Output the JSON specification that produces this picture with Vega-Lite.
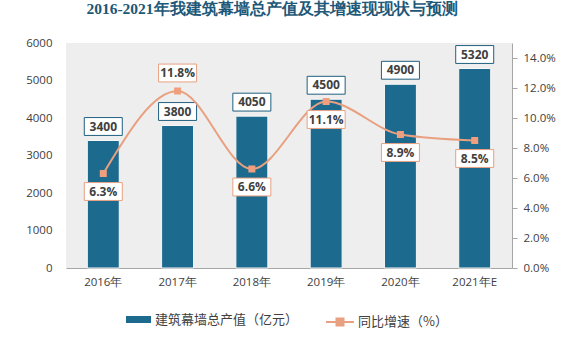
{
  "$schema": "https://vega.github.io/schema/vega-lite/v6.json",
  "width": 446,
  "height": 225,
  "autosize": "none",
  "padding": {"left": 66, "top": 43, "right": 52, "bottom": 77},
  "background": "#ffffff",
  "config": {
    "view": {"fill": "#eeeeee", "stroke": null},
    "font": "Open Sans",
    "axis": {"labelFont": "Open Sans", "labelFontSize": 11.5, "labelColor": "#404040", "grid": false, "title": null}
  },
  "title": {
    "text": "2016-2021年我建筑幕墙总产值及其增速现现状与预测",
    "font": "Liberation Serif",
    "fontSize": 15.5,
    "fontWeight": "bold",
    "color": "#1D5878",
    "anchor": "middle",
    "offset": 20,
    "dx": -17
  },
  "data": {
    "values": [
      {"year": "2016年", "value": 3400, "growth": 0.063},
      {"year": "2017年", "value": 3800, "growth": 0.118},
      {"year": "2018年", "value": 4050, "growth": 0.066},
      {"year": "2019年", "value": 4500, "growth": 0.111},
      {"year": "2020年", "value": 4900, "growth": 0.089},
      {"year": "2021年E", "value": 5320, "growth": 0.085}
    ]
  },
  "encoding": {
    "x": {
      "field": "year",
      "type": "nominal",
      "sort": null,
      "scale": {"paddingInner": 0.57, "paddingOuter": 0.287},
      "axis": {"labelAngle": 0, "ticks": false, "labelPadding": 8, "domainColor": "#a6a6a6", "domainWidth": 1}
    }
  },
  "layer": [
    {
      "encoding": {
        "y": {
          "field": "value",
          "type": "quantitative",
          "scale": {"domain": [0, 6000]},
          "axis": {"values": [0, 1000, 2000, 3000, 4000, 5000, 6000], "format": "d", "domain": false, "ticks": false, "labelPadding": 14, "orient": "left"}
        }
      },
      "layer": [
        {
          "mark": {"type": "bar", "stroke": "#f7f7f7", "strokeWidth": 1},
          "encoding": {
            "color": {
              "datum": "建筑幕墙总产值（亿元）",
              "scale": {"range": ["#1C6A8E"]},
              "legend": {
                "orient": "none",
                "legendX": 60,
                "legendY": 264,
                "title": null,
                "symbolType": "M-1,-0.28H1V0.28H-1Z",
                "symbolSize": 625,
                "symbolStrokeWidth": 0,
                "labelFont": "Noto Sans CJK SC",
                "labelFontSize": 13,
                "labelColor": "#404040",
                "labelOffset": 4
              }
            }
          }
        },
        {
          "mark": {"type": "point", "shape": "M-1,-0.47H1V0.47H-1Z", "size": 1444, "filled": false, "fill": "#ffffff", "fillOpacity": 1, "stroke": "#1F5F7F", "strokeWidth": 1, "opacity": 1, "yOffset": -14}
        },
        {
          "mark": {"type": "text", "fontSize": 12, "fontWeight": "bold", "color": "#404040", "baseline": "middle", "yOffset": -14},
          "encoding": {"text": {"field": "value", "type": "quantitative", "format": "d"}}
        }
      ]
    },
    {
      "encoding": {
        "y": {
          "field": "growth",
          "type": "quantitative",
          "scale": {"domain": [0, 0.15]},
          "axis": {"orient": "right", "values": [0, 0.02, 0.04, 0.06, 0.08, 0.1, 0.12, 0.14], "format": ".1%", "domainColor": "#a6a6a6", "tickColor": "#a6a6a6", "tickSize": 5, "labelPadding": 6}
        }
      },
      "layer": [
        {
          "mark": {"type": "line", "interpolate": "monotone", "strokeWidth": 2},
          "encoding": {
            "color": {
              "datum": "同比增速（%）",
              "scale": {"range": ["#E9A080"]},
              "legend": {
                "orient": "none",
                "legendX": 259,
                "legendY": 264,
                "title": null,
                "symbolType": "M-1,0H1M-0.25,-0.25H0.25V0.25H-0.25Z",
                "symbolSize": 784,
                "symbolStrokeWidth": 2,
                "symbolFillColor": "#E9A080",
                "labelFont": "Noto Sans CJK SC",
                "labelFontSize": 13,
                "labelColor": "#404040",
                "labelOffset": 3
              }
            }
          }
        },
        {
          "mark": {"type": "point", "shape": "square", "filled": true, "size": 49, "color": "#EF9F7E", "opacity": 1}
        },
        {
          "mark": {"type": "point", "shape": "M-1,-0.47H1V0.47H-1Z", "size": 1444, "filled": false, "fill": "#ffffff", "fillOpacity": 1, "stroke": "#E9A080", "strokeWidth": 1, "opacity": 1, "yOffset": {"expr": "datum.year == '2017年' ? -18 : 18"}}
        },
        {
          "mark": {"type": "text", "fontSize": 12, "fontWeight": "bold", "color": "#404040", "baseline": "middle", "yOffset": {"expr": "datum.year == '2017年' ? -18 : 18"}},
          "encoding": {"text": {"field": "growth", "type": "quantitative", "format": ".1%"}}
        }
      ]
    }
  ],
  "resolve": {"scale": {"y": "independent", "color": "independent"}}
}
